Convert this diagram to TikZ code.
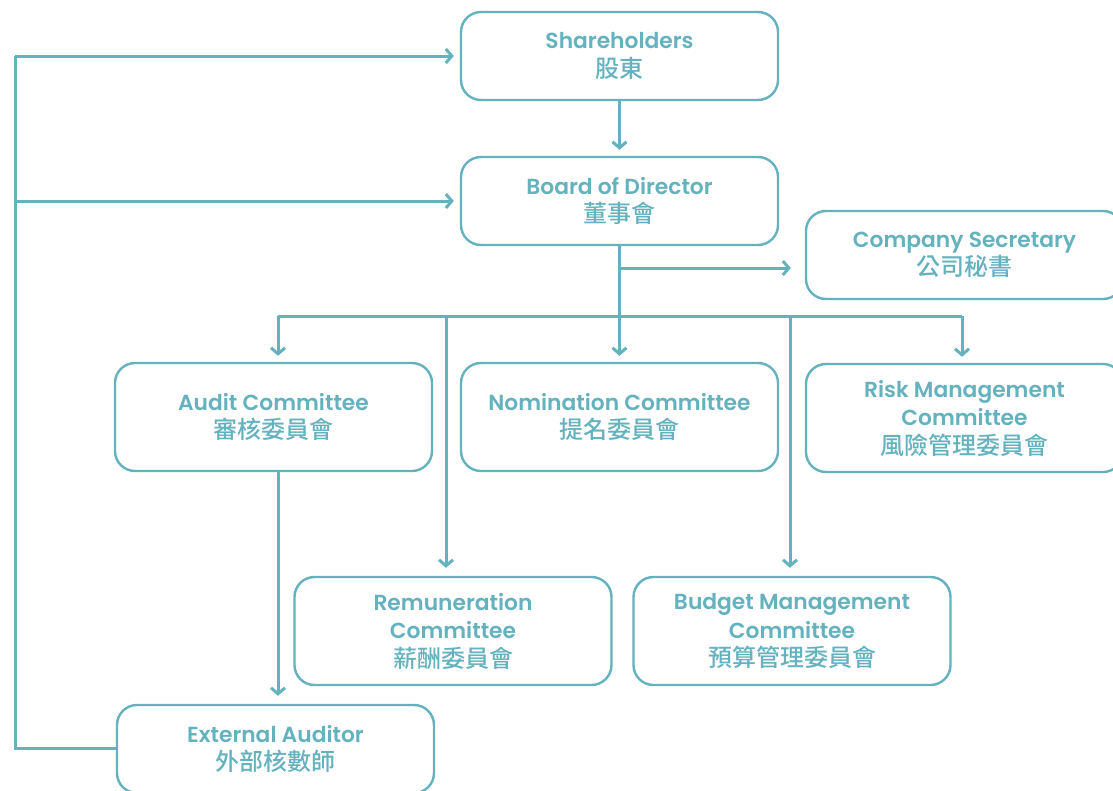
\documentclass[tikz,border=0pt]{standalone}
\usepackage{fontspec}
\setmainfont{Poppins}[BoldFont={Poppins SemiBold}]
\newfontfamily\cjk{Noto Sans CJK TC}[BoldFont={* Medium}]
\usetikzlibrary{arrows.meta}
\definecolor{teal1}{RGB}{100,178,190}
\tikzset{
  box/.style={draw=teal1, line width=2.4pt, rounded corners=20pt, minimum width=317pt, minimum height=88pt, align=center, text=teal1, font=\fontsize{21.8}{28.5}\selectfont\bfseries, inner sep=0pt},
  tallbox/.style={box, minimum height=108pt},
  conn/.style={draw=teal1, line width=3pt},
  arr/.style={conn, -{Straight Barb[length=6pt,width=14pt]}, shorten >=6pt},
}
\newcommand{\zh}[1]{{\cjk\fontsize{24}{28.5}\selectfont #1}}
\begin{document}
\begin{tikzpicture}[x=1pt,y=-1pt]
\clip (0,0) rectangle (1113,790);
\fill[white] (0,0) rectangle (1113,790);
\node[box] (sh) at (619.5,56) {Shareholders\\\zh{股東}};
\node[box] (board) at (619.5,201) {Board of Director\\\zh{董事會}};
\node[box] (sec) at (964.5,255) {Company Secretary\\\zh{公司秘書}};
\node[tallbox] (audit) at (273.5,417) {Audit Committee\\\zh{審核委員會}};
\node[tallbox] (nom) at (619.5,417) {Nomination Committee\\\zh{提名委員會}};
\node[tallbox] (risk) at (964.5,418) {Risk Management\\Committee\\\zh{風險管理委員會}};
\node[tallbox] (rem) at (453,631) {Remuneration\\Committee\\\zh{薪酬委員會}};
\node[tallbox] (bud) at (792,631) {Budget Management\\Committee\\\zh{預算管理委員會}};
\node[box] (ext) at (275.5,749) {External Auditor\\\zh{外部核數師}};
% coordinates
\coordinate (lx) at (15,0);
\coordinate (bus) at (619.5,316);
\coordinate (busL) at (278,316);
\coordinate (busR) at (962,316);
\coordinate (remx) at (446,316);
\coordinate (budx) at (790,316);
\coordinate (secy) at (619.5,268);
% connectors
\draw[arr] (sh.south) -- (board.north);
\draw[conn] (board.south) -- (bus);
\draw[arr, shorten >=14pt] (secy) -- (sec.west |- secy);
\draw[conn] (busL) -- (busR);
\draw[arr] (busL) -- (busL |- audit.north);
\draw[arr] (bus) -- (nom.north);
\draw[arr] (busR) -- (busR |- risk.north);
\draw[arr, shorten >=8pt] (remx) -- (remx |- rem.north);
\draw[arr, shorten >=8pt] (budx) -- (budx |- bud.north);
\draw[arr, shorten >=8pt] (busL |- audit.south) -- (busL |- ext.north);
\draw[conn] ([yshift=1pt]ext.west) -| (lx |- sh.west);
\draw[arr] (lx |- sh.west) -- (sh.west);
\draw[arr] (lx |- board.west) -- (board.west);
\end{tikzpicture}
\end{document}
